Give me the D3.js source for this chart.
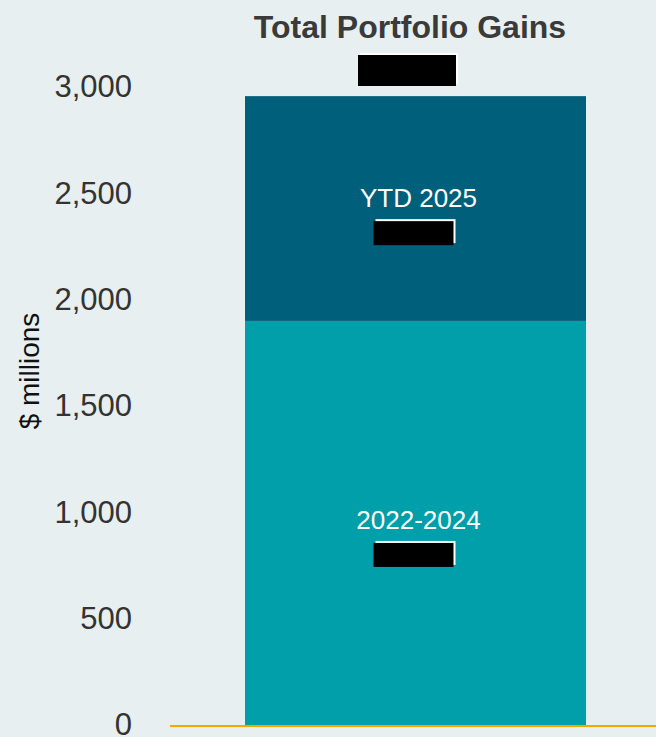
<!DOCTYPE html>
<html>
<head>
<meta charset="utf-8">
<script src="https://cdn.jsdelivr.net/npm/d3@7"></script>
<style>
body { margin: 0; background: #e7eff0; }
svg { display: block; font-family: "Liberation Sans", Arial, sans-serif; }
</style>
</head>
<body>
<div id="chart"></div>
<script>
// Total portfolio gains, stacked
var w = 656, h = 737;

var categories = ["Total"];
var series = ["2022-2024", "YTD 2025"];
var values_2022_2024 = [1900];
var values_ytd_2025 = [1057];
var yTicks = [0, 500, 1000, 1500, 2000, 2500, 3000];
var colors = ["#009faa", "#005f7a"];

var y = d3.scaleLinear().domain([0, 3000]).range([725, 87]);
var x = d3.scaleBand().domain(categories).range([245, 586]).padding(0);

var svg = d3.select("#chart").append("svg")
  .attr("width", w).attr("height", h);

svg.append("rect").attr("width", w).attr("height", h).attr("fill", "#e7eff0");

// title
svg.append("text").attr("x", 410).attr("y", 38)
  .attr("text-anchor", "middle").attr("font-weight", "bold")
  .attr("font-size", 32).attr("fill", "#3a3a3a")
  .text("Total Portfolio Gains");

// y axis (labels only)
var yAxis = svg.append("g").attr("transform", "translate(132,0)")
  .call(d3.axisLeft(y).tickValues(yTicks).tickSize(0).tickPadding(0).tickFormat(d3.format(",")));
yAxis.select(".domain").remove();
yAxis.selectAll("text").attr("font-size", 31).attr("fill", "#333")
  .attr("font-family", "Liberation Sans, Arial, sans-serif");

svg.append("text")
  .attr("transform", "translate(39,371) rotate(-90)")
  .attr("text-anchor", "middle").attr("font-size", 28).attr("fill", "#111")
  .text("$ millions");

// stack
var rows = categories.map(function(c, i) {
  return { cat: c, "2022-2024": values_2022_2024[i], "YTD 2025": values_ytd_2025[i] };
});
var stacked = d3.stack().keys(series)(rows);

svg.selectAll("g.layer").data(stacked).enter().append("g")
  .attr("class", "layer").attr("fill", function(d, i) { return colors[i]; })
  .each(function(layer) {
    d3.select(this).selectAll("rect").data(layer).enter().append("rect")
      .attr("x", function(d) { return x(d.data.cat); })
      .attr("width", x.bandwidth())
      .attr("y", function(d) { return y(d[1]); })
      .attr("height", function(d) { return y(d[0]) - y(d[1]); });
  });

// segment labels
stacked.forEach(function(layer) {
  var d = layer[0];
  var cx = x(d.data.cat) + x.bandwidth() / 2 + 3;
  var top = y(d[1]);
  var lblY = layer.key == "YTD 2025" ? top + 111 : top + 208;
  svg.append("text").attr("x", cx).attr("y", lblY)
    .attr("text-anchor", "middle").attr("font-size", 26).attr("fill", "#fff")
    .text(layer.key);
  redact(cx - 45, lblY + 14, 80, 24);
});

// total label (redacted)
redact(358, 55, 98, 31);

function redact(rx, ry, rw, rh) {
  svg.append("rect").attr("x", rx + 2).attr("y", ry - 2).attr("width", rw).attr("height", rh).attr("fill", "#fff");
  svg.append("rect").attr("x", rx).attr("y", ry).attr("width", rw).attr("height", rh).attr("fill", "#000");
}

// baseline
svg.append("line").attr("x1", 170).attr("x2", 656)
  .attr("y1", y(0) + 1).attr("y2", y(0) + 1)
  .attr("stroke", "#f5a800").attr("stroke-width", 2);
</script>
</body>
</html>
